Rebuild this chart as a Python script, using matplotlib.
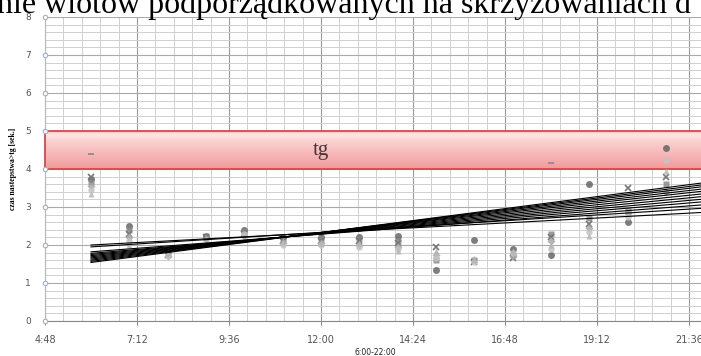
import numpy as np
import matplotlib
matplotlib.use('Agg')
import matplotlib.pyplot as plt
from matplotlib.colors import LinearSegmentedColormap

# hours of the day (measurement points, 6:00 ... 21:00)
hours = [6, 7, 8, 9, 10, 11, 12, 13, 14, 15, 16, 17, 18, 19, 20, 21]

# headway times [s] per intersection, None = no measurement
ser_a = [3.75, 2.50, None, 2.25, 2.40, 2.20, 2.20, 2.20, 2.25, 1.35, 2.13, 1.90, 1.75, 3.60, 2.60, 4.55]
ser_b = [3.65, 2.40, 1.80, 2.22, 2.35, 2.15, 2.15, 2.15, 2.10, 1.60, 1.60, 1.75, 2.30, 2.70, 2.90, 3.60]
ser_c = [3.80, 2.30, 1.75, 2.20, 2.30, 2.10, 2.10, 2.10, 2.05, 1.95, 1.55, 1.65, 2.20, 2.55, 3.50, 3.80]
ser_d = [3.55, 2.20, 1.70, 2.15, 2.25, 2.05, 2.05, 2.00, 1.95, 1.75, None, 1.70, 2.10, 2.45, 2.85, 3.40]
ser_e = [3.45, 2.10, 1.72, None, 2.30, 2.00, 2.00, 1.95, 1.90, 1.65, 1.55, 1.80, 1.90, 2.35, 2.75, 4.25]
ser_f = [3.35, 2.00, 1.78, 2.18, None, 2.10, 2.05, 2.05, 1.85, 1.85, 1.65, 1.85, 2.00, 2.25, 2.95, 3.95]
ser_g = [4.40, None, None, None, None, None, None, None, None, None, None, None, 4.15, None, None, None]
series = [ser_a, ser_b, ser_c, ser_d, ser_e, ser_f, ser_g]

# linear trend lines: value at 6:00 and at 22:00
trend_x = [6.0, 22.0]
trend_start = [2.00, 1.95, 1.82, 1.78, 1.75, 1.72, 1.69, 1.66, 1.63, 1.60, 1.57, 1.54]
trend_end = [2.86, 2.97, 3.06, 3.14, 3.21, 3.28, 3.35, 3.42, 3.48, 3.54, 3.59, 3.64]

tg_low = 4.0
tg_high = 5.0

y_ticks = [0, 1, 2, 3, 4, 5, 6, 7, 8]
x_ticks = [4.8, 7.2, 9.6, 12.0, 14.4, 16.8, 19.2, 21.6]

styles = [
    dict(marker='o', color='#666666', ms=5.0),
    dict(marker='s', color='#8a8a8a', ms=4.2),
    dict(marker='x', color='#777777', ms=4.0),
    dict(marker='D', color='#a8a8a8', ms=3.8),
    dict(marker='o', color='#c4c4c4', ms=4.6),
    dict(marker='^', color='#b5b5b5', ms=4.2),
    dict(marker='_', color='#888888', ms=5.0),
]


def hm(h):
    tot = int(round(h * 60))
    return "%d:%02d" % (tot // 60, tot % 60)


fig = plt.figure(figsize=(7.01, 3.56), dpi=100)
ax = fig.add_axes([45 / 701, 35 / 356, 660 / 701, 304 / 356])

xmin, xmax = 4.8, 4.8 + 660 / 38.33
ax.set_xlim(xmin, xmax)
ax.set_ylim(0, 8)

# grid
for x in np.arange(xmin, xmax, 0.48):
    ax.axvline(x, color='#d0d0d0', lw=0.7, zorder=0)
for x in x_ticks:
    ax.axvline(x, color='#9a9a9a', lw=0.8, zorder=0)
for y in np.arange(0, 8.01, 0.2):
    ax.axhline(y, color='#d0d0d0', lw=0.7, zorder=0)
for y in y_ticks:
    ax.axhline(y, color='#aaaaaa', lw=0.8, zorder=0)

# tg band with gradient
grad = np.linspace(0, 1, 64).reshape(-1, 1)
cmap = LinearSegmentedColormap.from_list(
    'band', [(0.0, '#f7c0c0'), (0.08, '#fde6e6'), (0.25, '#fbd2d2'), (1.0, '#f19a9c')])
ax.imshow(grad, cmap=cmap, extent=[xmin, xmax, tg_low, tg_high], origin='upper',
          aspect='auto', zorder=1)
ax.plot([xmin, xmax], [tg_high, tg_high], color='#d8474b', lw=1.3, zorder=2)
ax.plot([xmin, xmax], [tg_low, tg_low], color='#d8474b', lw=1.3, zorder=2)
ax.plot([xmin, xmin], [tg_low, tg_high], color='#d8474b', lw=1.3, zorder=2, clip_on=False)
ax.text(12.0, 4.5, 'tg', family='Liberation Serif', fontsize=15, color='#4a3535',
        ha='center', va='center', zorder=3)

# measured points
for s, st in zip(series, styles):
    xs = [h for h, v in zip(hours, s) if v is not None]
    vs = [v for v in s if v is not None]
    if st['marker'] in ('x', '_'):
        ax.plot(xs, vs, ls='none', marker=st['marker'], color=st['color'],
                ms=st['ms'], mew=1.2, zorder=4)
    else:
        ax.plot(xs, vs, ls='none', marker=st['marker'], color=st['color'],
                ms=st['ms'], mec='none', alpha=0.85, zorder=4)

# trend lines
for a, b in zip(trend_start, trend_end):
    ax.plot(trend_x, [a, b], color='black', lw=0.8, zorder=5)

# axes look
for sp in ax.spines.values():
    sp.set_visible(False)
ax.plot([xmin, xmin], [0, 8], color='#b8b8b8', lw=0.8, zorder=0.5, clip_on=False)
ax.plot([xmin, xmax], [0, 0], color='#888888', lw=0.8, zorder=0.5, clip_on=False)
ax.plot([xmin] * len(y_ticks), y_ticks, ls='none', marker='o', ms=3.2, mfc='white',
        mec='#9ab4cc', mew=0.8, clip_on=False, zorder=6)

ax.set_yticks(y_ticks)
ax.set_xticks(x_ticks)
ax.set_xticklabels([hm(x) for x in x_ticks])
ax.tick_params(axis='y', length=0, pad=10, labelsize=6.5, labelcolor='#555555')
ax.tick_params(axis='x', length=3, color='#888888', pad=7, labelsize=7,
               labelcolor='#555555')

ax.set_ylabel('czas nastepstwa>tg [sek.]', family='Liberation Serif', fontsize=5.5,
              fontweight='bold', labelpad=6)
ax.set_xlabel('6:00-22:00', fontsize=5.5, color='#222222', labelpad=2)

# cut heading text from the document page above the chart
fig.text(-3 / 701, 1 - 13 / 356, 'nie wlotów podporządkowanych na skrzyżowaniach d',
         family='Liberation Serif', fontsize=23, ha='left', va='baseline', color='black')

fig.savefig('out.png', dpi=100)
